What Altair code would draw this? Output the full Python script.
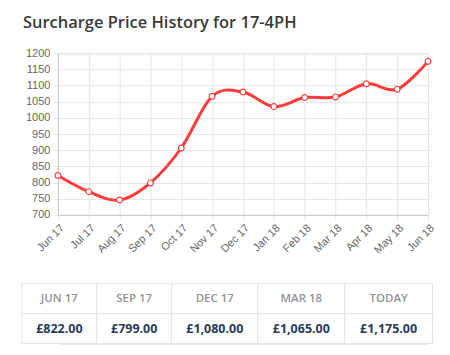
import altair as alt
import pandas as pd

# ---- data ----
months = ["Jun 17", "Jul 17", "Aug 17", "Sep 17", "Oct 17", "Nov 17", "Dec 17",
          "Jan 18", "Feb 18", "Mar 18", "Apr 18", "May 18", "Jun 18"]
prices = [822, 772, 746, 799, 907, 1067, 1080, 1035, 1063, 1065, 1106, 1089, 1175]
y_ticks = [700, 750, 800, 850, 900, 950, 1000, 1050, 1100, 1150, 1200]

table_headers = ["JUN 17", "SEP 17", "DEC 17", "MAR 18", "TODAY"]
table_values = ["£822.00", "£799.00", "£1,080.00", "£1,065.00", "£1,175.00"]

# layout (pixel widths of the table columns)
col_widths = [75, 75, 86.5, 87, 88]

title = "Surcharge Price History for 17-4PH"
RED = "#ff3b3b"

df = pd.DataFrame({"month": months, "price": prices})

x_enc = alt.X("month:N", sort=months, scale=alt.Scale(padding=0),
              axis=alt.Axis(title=None, labelAngle=-45, labelAlign="right",
                            labelBaseline="top", labelFont="Liberation Sans",
                            labelFontSize=11, labelColor="#666", labelPadding=2,
                            tickSize=5, tickColor="#e6e6e6", gridColor="#e6e6e6",
                            domainColor="#c8c8c8", grid=True))
y_enc = alt.Y("price:Q", scale=alt.Scale(domain=[700, 1200], nice=False, zero=False),
              axis=alt.Axis(title=None, values=y_ticks, format="d",
                            labelFont="Liberation Sans",
                            labelFontSize=11, labelColor="#666", labelPadding=3,
                            tickSize=5, tickColor="#e6e6e6", gridColor="#e6e6e6",
                            domainColor="#c8c8c8"))

base = alt.Chart(df).encode(x=x_enc, y=y_enc)
line = base.mark_line(color=RED, strokeWidth=3, interpolate="cardinal", tension=0)
pts = base.mark_point(filled=True, fill="white", stroke=RED, strokeWidth=1.2,
                      size=34, opacity=1)

line_chart = alt.layer(line, pts).properties(
    width=371, height=162,
    title=alt.TitleParams(title, anchor="start", frame="group", dx=-35,
                          font="Open Sans", fontSize=16.5, fontWeight=600,
                          color="#3a3a3a", offset=3, baseline="alphabetic"),
)

# ---- table ----
edges = [0]
for w in col_widths:
    edges.append(edges[-1] + w)
total_w = edges[-1]
rows = []
for i, (h, v) in enumerate(zip(table_headers, table_values)):
    rows.append({"x0": edges[i], "x1": edges[i + 1], "xc": (edges[i] + edges[i + 1]) / 2,
                 "r0": 0, "r1": 1, "rc": 0.5, "text": h, "kind": "head"})
    rows.append({"x0": edges[i], "x1": edges[i + 1], "xc": (edges[i] + edges[i + 1]) / 2,
                 "r0": 1, "r1": 2, "rc": 1.5, "text": v, "kind": "val"})
tdf = pd.DataFrame(rows)

xs = alt.Scale(domain=[0, total_w], range=[-36, total_w - 36])
ys = alt.Scale(domain=[0, 2], range=[0, 60])

cells = alt.Chart(tdf).mark_rect(fill="white", stroke="#e3e3e3", strokeWidth=1).encode(
    x=alt.X("x0:Q", scale=xs, axis=None), x2="x1:Q",
    y=alt.Y("r0:Q", scale=ys, axis=None), y2="r1:Q")
head_txt = alt.Chart(tdf).transform_filter(alt.datum.kind == "head").mark_text(
    font="Open Sans", fontSize=11.5, fontWeight=600, color="#939393", baseline="middle"
).encode(x=alt.X("xc:Q", scale=xs, axis=None), y=alt.Y("rc:Q", scale=ys, axis=None),
         text="text:N")
val_txt = alt.Chart(tdf).transform_filter(alt.datum.kind == "val").mark_text(
    font="Open Sans", fontSize=12.5, fontWeight="bold", color="#2b3a5a", baseline="middle"
).encode(x=alt.X("xc:Q", scale=xs, axis=None), y=alt.Y("rc:Q", scale=ys, axis=None),
         text="text:N")

table = alt.layer(cells, head_txt, val_txt).properties(width=371, height=60)

chart = alt.vconcat(line_chart, table, spacing=69, bounds="flush").properties(
    padding={"left": 13, "top": 6, "right": 5, "bottom": 5}
).configure_view(stroke=None).configure(background="white")

chart.save("out.html", embed_options={"renderer": "svg", "actions": False})
